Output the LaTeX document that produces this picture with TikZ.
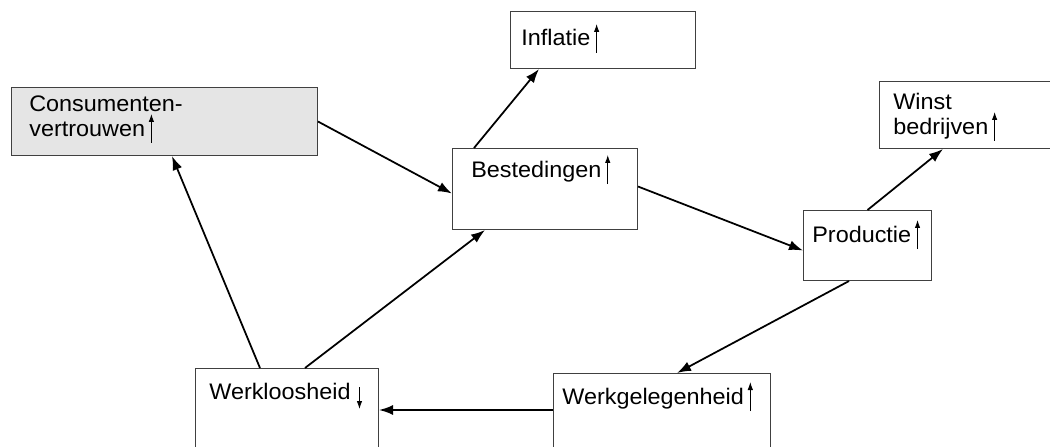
\documentclass[tikz,border=0pt]{standalone}
\usepackage{fontspec}
\setmainfont{Liberation Sans}[FakeStretch=1.04]
\usetikzlibrary{arrows.meta,calc}
\tikzset{>={Latex[length=0.28cm,width=0.2cm]},
    vak/.style={draw=black!75, line width=0.6pt, anchor=north west, inner sep=0pt},
    tekst/.style={anchor=base west, inner sep=0pt, font=\fontsize{12.8pt}{13.7pt}\selectfont},
    pijl/.style={->, line width=1pt},
    op/.style={-{Latex[length=0.16cm,width=0.11cm]}, line width=0.5pt}}

\begin{document}
\begin{tikzpicture}[x=0.02cm, y=-0.02cm]
    \useasboundingbox (0,0) rectangle (1050,446);
    \clip (0,0) rectangle (1050,446);
    % vakken
    \node[vak, fill=gray!20, minimum width=6.12cm, minimum height=1.36cm] (cv) at (11,87) {};
    \node[vak, minimum width=3.70cm, minimum height=1.14cm] (inf) at (510,11) {};
    \node[vak, minimum width=3.70cm, minimum height=1.62cm] (best) at (452,148) {};
    \node[vak, minimum width=3.50cm, minimum height=1.34cm] (winst) at (879,81) {};
    \node[vak, minimum width=2.56cm, minimum height=1.40cm] (prod) at (803,210) {};
    \node[vak, minimum width=3.66cm, minimum height=2.00cm] (wl) at (195,368) {};
    \node[vak, minimum width=4.34cm, minimum height=2.00cm] (wg) at (553,373) {};
    % teksten
    \node[tekst] (tcv1) at (29,112) {Consumenten-};
    \node[tekst] (tcv2) at (29,136) {vertrouwen};
    \node[tekst] (tinf) at (521,46) {Inflatie};
    \node[tekst] (tbest) at (471,177) {Bestedingen};
    \node[tekst] (twinst1) at (893,110) {Winst};
    \node[tekst] (twinst2) at (893,134) {bedrijven};
    \node[tekst] (tprod) at (812,242) {Productie};
    \node[tekst] (twl) at (209,399) {Werkloosheid};
    \node[tekst] (twg) at (562,404) {Werkgelegenheid};
    % pijltjes
    \foreach \t in {tcv2, tinf, tbest, twinst2, tprod, twg}
      \draw[op] ([xshift=0.12cm, yshift=-0.14cm]\t.base east) -- ++(0,-29);
    \draw[op] ([xshift=0.17cm, yshift=0.24cm]twl.base east) -- ++(0,22);
    % verbanden
    \draw[pijl] (cv.east) -- ([yshift=-0.09cm]best.west);
    \draw[pijl] ([xshift=0.44cm]best.north west) -- ([xshift=0.58cm]inf.south west);
    \draw[pijl] ([yshift=0.05cm]best.east) -- ([yshift=-0.10cm]prod.west);
    \draw[pijl] (prod.north) -- ([xshift=1.28cm]winst.south west);
    \draw[pijl] ([xshift=0.92cm]prod.south west) -- ([xshift=2.48cm]wg.north west);
    \coordinate (wgin) at ([yshift=-0.74cm]wg.north west);
    \draw[pijl] (wgin) -- (wgin -| wl.east);
    \draw[pijl] ([xshift=2.20cm]wl.north west) -- ([xshift=0.66cm]best.south west);
    \draw[pijl] ([xshift=1.30cm]wl.north west) -- ([xshift=3.22cm]cv.south west);
\end{tikzpicture}
\end{document}
